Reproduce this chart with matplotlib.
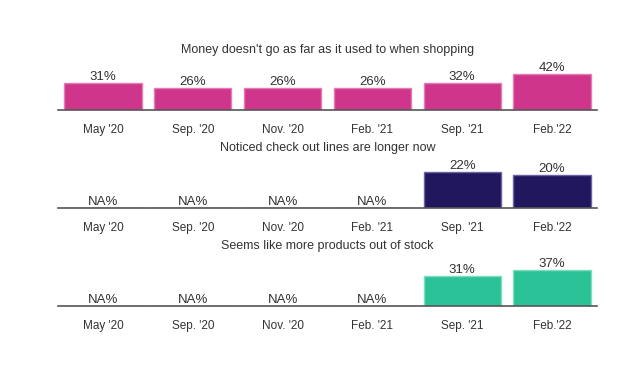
import matplotlib
matplotlib.use("Agg")
import matplotlib.pyplot as plt
import numpy as np

plt.rcParams['font.family'] = ['Liberation Sans', 'DejaVu Sans']

categories = ["May '20", "Sep. '20", "Nov. '20", "Feb. '21", "Sep. '21", "Feb.'22"]
money = [31, 26, 26, 26, 32, 42]
checkout = [None, None, None, None, 22, 20]
stock = [None, None, None, None, 31, 37]
titles = ["Money doesn't go as far as it used to when shopping",
          "Noticed check out lines are longer now",
          "Seems like more products out of stock"]
colors = ["#CF368B", "#21175F", "#2BC298"]
edges = ["#E57DB5", "#6A64A0", "#7FDDBE"]
series = [money, checkout, stock]

W, H = 641, 391
fig = plt.figure(figsize=(W/100, H/100), dpi=100)
baselines = [110, 208, 306]
ax_h = 45
left, right = 58, 597
txt = "#333333"
for i, (vals, title, col, ec, base) in enumerate(zip(series, titles, colors, edges, baselines)):
    ax = fig.add_axes([left/W, 1 - base/H, (right-left)/W, ax_h/H])
    x = np.arange(len(categories))
    v = np.array([np.nan if a is None else a for a in vals], dtype=float)
    vmax = np.nanmax(v)
    ax.bar(x, np.nan_to_num(v), width=0.86, color=col, edgecolor=ec, linewidth=1)
    for xi, val in zip(x, vals):
        if val is None:
            ax.text(xi, 0, "NA%", ha='center', va='bottom', fontsize=9.5, color=txt)
        else:
            ax.text(xi, val, f"{val}%", ha='center', va='bottom', fontsize=9.5, color=txt)
    ax.set_xlim(-0.5, 5.5)
    ax.set_ylim(0, vmax * 1.25)
    ax.set_yticks([])
    ax.set_xticks(x)
    ax.set_xticklabels(categories, fontsize=8.5, color=txt)
    ax.tick_params(axis='x', length=0, pad=10)
    for s in ['top', 'right', 'left']:
        ax.spines[s].set_visible(False)
    ax.spines['bottom'].set_color('#555555')
    ax.spines['bottom'].set_linewidth(1.2)
    ax.set_title(title, fontsize=9, color=txt, pad=9)
    ax.patch.set_alpha(0)

fig.savefig("out.png", dpi=100)
